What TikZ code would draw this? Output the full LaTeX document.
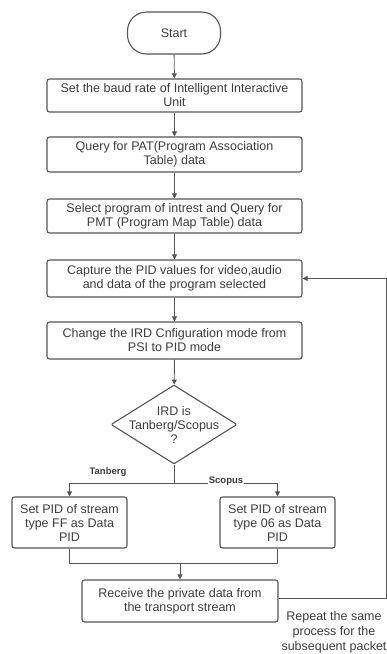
\documentclass[tikz,border=0pt]{standalone}
\usepackage{fontspec}
\setmainfont{Liberation Sans}
\usetikzlibrary{shapes.geometric,arrows.meta}
\definecolor{flowline}{RGB}{85,85,85}
\definecolor{flowtext}{RGB}{60,60,60}
\tikzset{
  procbox/.style={draw=flowline, line width=1.1pt, rounded corners=2.5pt, align=center, inner sep=0pt, text=flowtext, font=\fontsize{12.5}{14}\selectfont},
  flowarr/.style={draw=flowline, line width=0.9pt, -{Triangle[width=5pt,length=5pt]}},
  flowlink/.style={draw=flowline, line width=0.9pt},
  branchtxt/.style={text=flowtext, inner sep=1pt, font=\bfseries\fontsize{9.5}{11}\selectfont},
}
\begin{document}
\begin{tikzpicture}[x=1pt,y=1pt,yscale=-1,xscale=1]
\useasboundingbox (0,0) rectangle (387,654);
\node (start) at (174,33) [procbox, rounded corners=19pt, minimum width=93, minimum height=42] {Start};
\node (baud) at (174.5,95.5) [procbox, minimum width=255, minimum height=33] {Set the baud rate of Intelligent Interactive\\Unit};
\node (pat) at (174.5,154.5) [procbox, minimum width=255, minimum height=35] {Query for PAT(Program Association\\Table) data};
\node (pmt) at (174.5,216) [procbox, minimum width=255, minimum height=34] {Select program of intrest and Query for\\PMT (Program Map Table) data};
\node (pid) at (174.5,278.5) [procbox, minimum width=255, minimum height=37] {Capture the PID values for video,audio\\and data of the program selected};
\node (mode) at (174.5,340.5) [procbox, minimum width=255, minimum height=37] {Change the IRD Cnfiguration mode from\\PSI to PID mode};
\node (ird) at (174,424.5) [procbox, shape=diamond, rounded corners=1pt, minimum width=126, minimum height=79,
  label={[align=center, text=flowtext, font=\fontsize{12.5}{14}\selectfont]center:IRD is\\Tanberg/Scopus\\?}] {};
\node (tanb) at (69.5,522.5) [procbox, minimum width=115, minimum height=51] {Set PID of stream\\type FF as Data\\PID};
\node (scop) at (277.5,522.5) [procbox, minimum width=115, minimum height=51] {Set PID of stream\\type 06 as Data\\PID};
\node (recv) at (180,601) [procbox, minimum width=196, minimum height=42] {Receive the private data from\\the transport stream};
\node (repeat) at (334,632) [align=center, text=flowtext, inner sep=0pt, font=\fontsize{12.5}{15}\selectfont] {Repeat the same\\process for the\\subsequent packet};
% main chain
\draw [flowarr] (start) -- (baud);
\draw [flowarr] (baud) -- (pat);
\draw [flowarr] (pat) -- (pmt);
\draw [flowarr] (pmt) -- (pid);
\draw [flowarr] (pid) -- (mode);
\draw [flowarr] (mode) -- (ird);
% branches
\coordinate (fork) at (174,483);
\draw [flowlink] (ird.south) -- (fork);
\draw [flowarr] (fork) -| (tanb.north);
\draw [flowarr] (fork) -| (scop.north);
\node (tlab) at (108,472) [branchtxt] {Tanberg};
\node (slab) at (226,481) [branchtxt, fill=white] {Scopus};
% merge
\coordinate (join) at (180,563);
\draw [flowlink] (tanb.south) |- (join);
\draw [flowlink] (scop.south) |- (join);
\draw [flowarr] (join) -- (recv.north);
% loop back
\coordinate (loopr) at (386,598);
\draw [flowarr] (recv.east |- loopr) -- (loopr) |- (pid.east);
\end{tikzpicture}
\end{document}
